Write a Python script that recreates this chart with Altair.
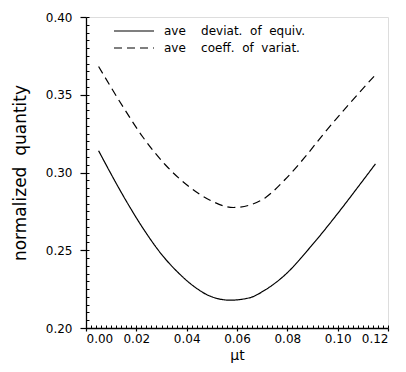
import altair as alt
import pandas as pd

# --- data ---
mu_dev = [0.005, 0.0148, 0.0225, 0.0302, 0.0367, 0.0444, 0.0482,
          0.0572, 0.0649, 0.0714, 0.0791, 0.0894, 0.0997, 0.1087, 0.115]
dev = [0.314, 0.2850, 0.2645, 0.2470, 0.2355, 0.2250, 0.2213,
       0.2179, 0.2194, 0.2247, 0.2342, 0.2525, 0.2730, 0.2920, 0.3055]

mu_cv = [0.005, 0.0148, 0.0225, 0.0315, 0.0405, 0.0495, 0.0585, 0.0649,
         0.0714, 0.0791, 0.0868, 0.0945, 0.1048, 0.115]
cv = [0.3682, 0.3420, 0.3230, 0.3050, 0.2915, 0.2820, 0.2775, 0.2790,
      0.2840, 0.2955, 0.3095, 0.3250, 0.3445, 0.3628]

NB = "\u00a0"
label_dev = "ave" + NB * 4 + "deviat." + NB * 2 + "of" + NB * 2 + "equiv."
label_cv = "ave" + NB * 4 + "coeff." + NB * 2 + "of" + NB * 2 + "variat."
series_labels = [label_dev, label_cv]

x_major = [0.0, 0.02, 0.04, 0.06, 0.08, 0.10, 0.12]
y_major = [0.20, 0.25, 0.30, 0.35, 0.40]
x_minor = [round(i * 0.002, 3) for i in range(61)]
y_minor = [round(0.2 + i * 0.005, 3) for i in range(41)]

df = pd.concat([
    pd.DataFrame({"mu": mu_dev, "val": dev, "series": label_dev, "order": range(len(dev))}),
    pd.DataFrame({"mu": mu_cv, "val": cv, "series": label_cv, "order": range(len(cv))}),
])

FONT = "DejaVu Sans"
xscale = alt.Scale(domain=[0, 0.12], nice=False, zero=False)
yscale = alt.Scale(domain=[0.2, 0.4], nice=False, zero=False)

lines = alt.Chart(df).mark_line(color="black", strokeWidth=1.2, interpolate="monotone").encode(
    x=alt.X("mu:Q", scale=xscale,
            axis=alt.Axis(values=x_major, format=".2f", title="\u03bct", grid=False,
                          tickSize=3, tickColor="black", tickWidth=1.2,
                          domainColor="black", domainWidth=1.3,
                          labelFont=FONT, labelFontSize=12, labelColor="black", labelPadding=2,
                          titleFont=FONT, titleFontSize=14, titleFontWeight="normal",
                          titleColor="black", titlePadding=4)),
    y=alt.Y("val:Q", scale=yscale,
            axis=alt.Axis(values=y_major, format=".2f", title="normalized" + NB * 2 + "quantity",
                          grid=False, tickSize=6, tickColor="black", tickWidth=1.2,
                          domainColor="black", domainWidth=1.3,
                          labelFont=FONT, labelFontSize=12, labelColor="black", labelPadding=8,
                          titleFont=FONT, titleFontSize=17, titleFontWeight="normal",
                          titleColor="black", titlePadding=16)),
    strokeDash=alt.StrokeDash("series:N",
                              scale=alt.Scale(domain=series_labels, range=[[1, 0], [8, 5]]),
                              legend=alt.Legend(orient="none", legendX=22, legendY=8, title=None,
                                                symbolType="M0,0H8", symbolSize=100,
                                                symbolStrokeWidth=1.2, symbolStrokeColor="black",
                                                symbolFillColor="transparent",
                                                labelFont=FONT, labelFontSize=12, labelColor="black",
                                                labelOffset=44, rowPadding=5, padding=0)),
    order="order:Q",
)

minor = alt.Chart(df).mark_line(opacity=0).encode(
    x=alt.X("mu:Q", scale=xscale,
            axis=alt.Axis(values=x_minor, labels=False, domain=False, grid=False, title=None,
                          orient="bottom", offset=-3, tickSize=3, tickColor="black", tickWidth=1)),
    y=alt.Y("val:Q", scale=yscale,
            axis=alt.Axis(values=y_minor, labels=False, domain=False, grid=False, title=None,
                          orient="left", offset=-3, tickSize=3, tickColor="black", tickWidth=1)),
    detail="series:N",
)

chart = alt.layer(lines, minor).resolve_axis(x="independent", y="independent").properties(
    width=302, height=311,
    autosize=alt.AutoSizeParams(type="none"),
    padding={"left": 78, "top": 9, "right": 10, "bottom": 36},
).configure_view(stroke=None).configure(background="white")

chart.save("out.html", embed_options={"renderer": "svg", "actions": False})
